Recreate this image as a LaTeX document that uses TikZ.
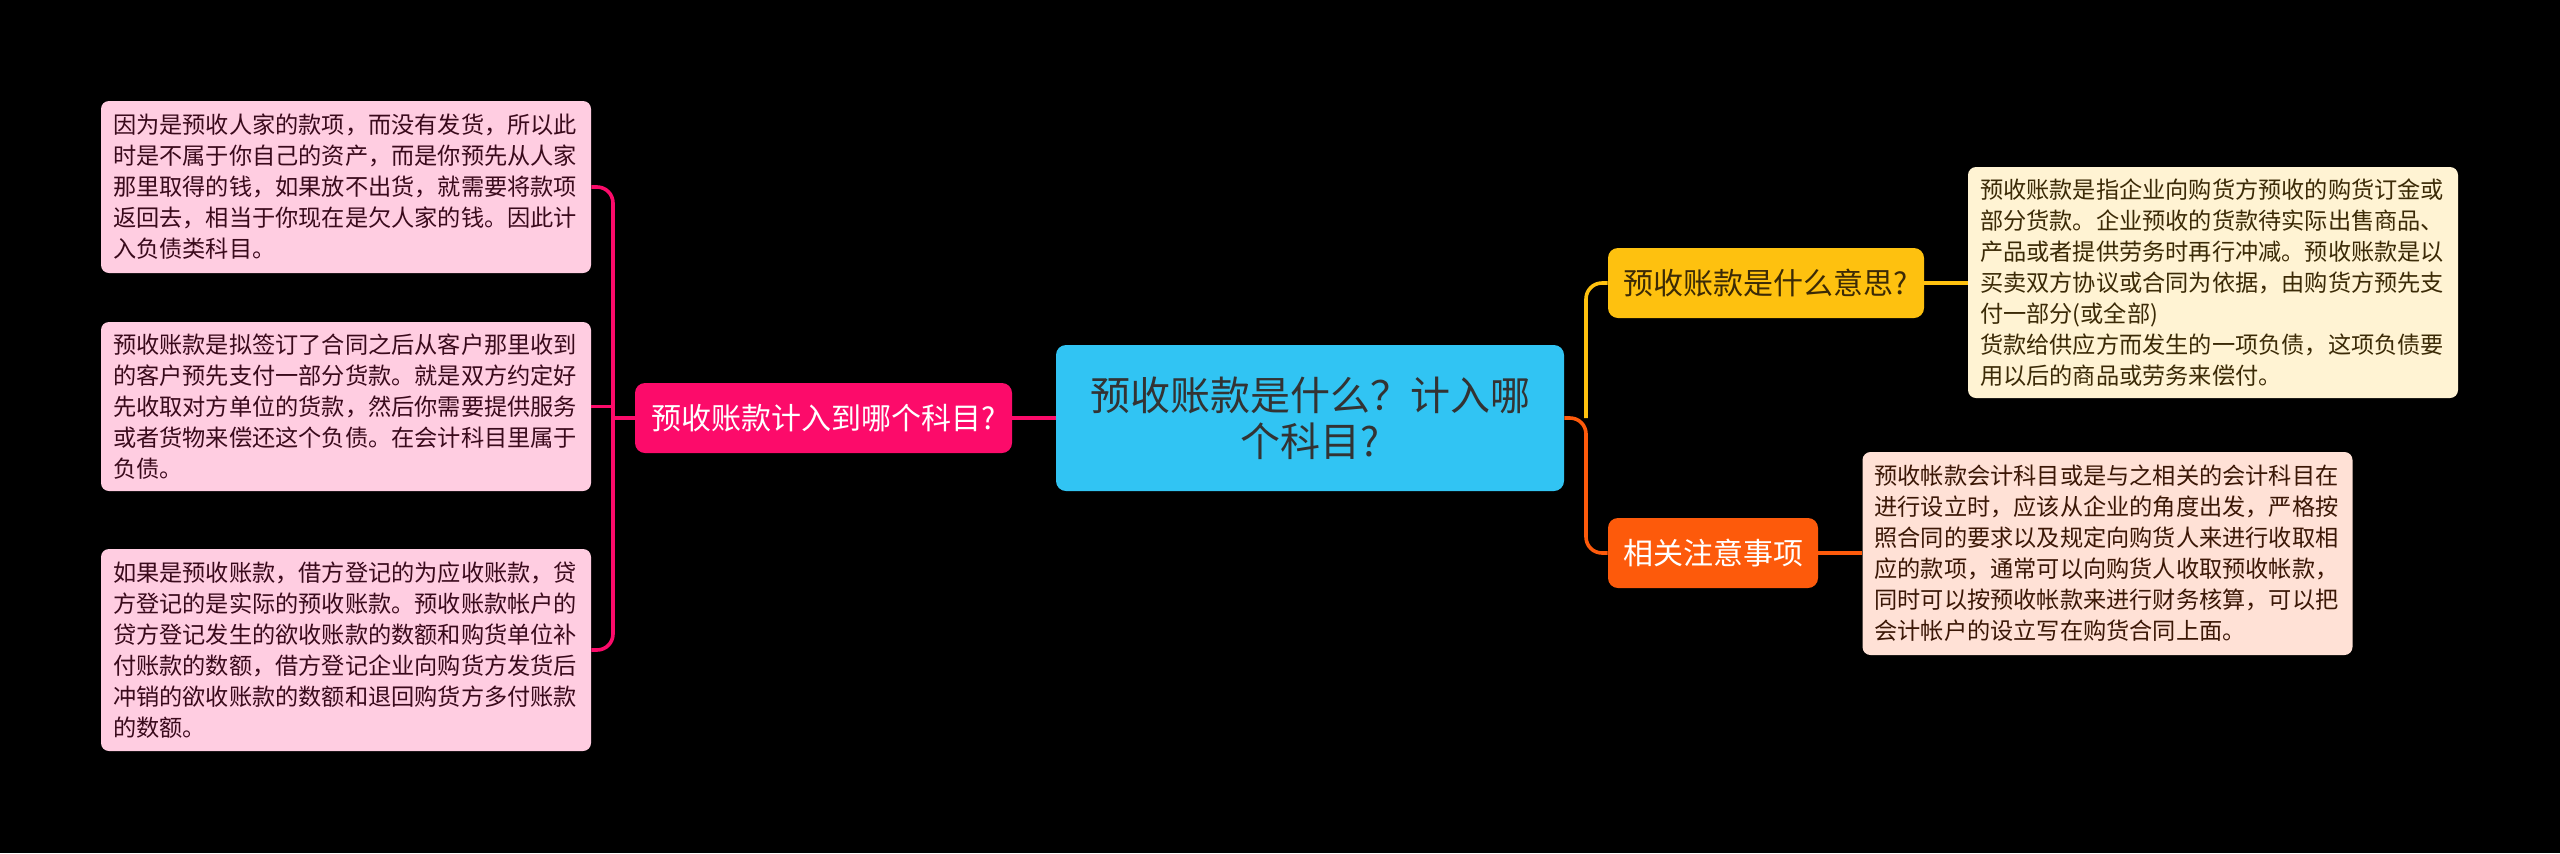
\documentclass[tikz,border=0pt]{standalone}
\usepackage{fontspec}
\setmainfont{Noto Sans CJK SC}
\usetikzlibrary{calc}
\definecolor{rootblue}{HTML}{31C4F3}
\definecolor{hotpink}{HTML}{FC0B6A}
\definecolor{pinkleaf}{HTML}{FFCDE1}
\definecolor{pinktext}{HTML}{3A0A1C}
\definecolor{amber}{HTML}{FEC10F}
\definecolor{creamleaf}{HTML}{FFF3D3}
\definecolor{creamtext}{HTML}{3B2A06}
\definecolor{flame}{HTML}{FD5A0B}
\definecolor{peachleaf}{HTML}{FFE1D6}
\definecolor{peachtext}{HTML}{3B1706}

\begin{document}
\begin{tikzpicture}[x=0.5pt,y=-0.5pt,
        root box/.style={fill=rootblue, rounded corners=5pt, text=black!80, align=center,
          minimum width=254pt, minimum height=73pt, inner sep=0pt,
          font=\fontsize{20pt}{23pt}\selectfont},
        topic box/.style={rounded corners=5pt, minimum height=35pt, inner sep=0pt,
          font=\fontsize{15pt}{18pt}\selectfont},
        leaf box/.style={rounded corners=4pt, align=left, text width=233pt, inner xsep=6pt,
          inner ysep=0pt, font=\fontsize{11.6pt}{15.5pt}\selectfont},
        link/.style={line width=1.8pt, rounded corners=8pt}]
        \fill[black](0,0)rectangle(2560,853);

        \node[root box] (root) at (1310,418) {预收账款是什么？计入哪\\个科目?};

        % left branch
        \node[topic box, fill=hotpink, text=white, minimum width=188.5pt] (where) at (823.5,418) {预收账款计入到哪个科目?};
        \node[leaf box, fill=pinkleaf, text=pinktext, minimum height=86pt] (whyleaf) at (346,187)
          {因为是预收人家的款项，而没有发货，所以此\\时是不属于你自己的资产，而是你预先从人家\\那里取得的钱，如果放不出货，就需要将款项\\返回去，相当于你现在是欠人家的钱。因此计\\入负债类科目。};
        \node[leaf box, fill=pinkleaf, text=pinktext, minimum height=84.5pt] (debtleaf) at (346,406.5)
          {预收账款是拟签订了合同之后从客户那里收到\\的客户预先支付一部分货款。就是双方约定好\\先收取对方单位的货款，然后你需要提供服务\\或者货物来偿还这个负债。在会计科目里属于\\负债。};
        \node[leaf box, fill=pinkleaf, text=pinktext, minimum height=101pt] (bookleaf) at (346,650)
          {如果是预收账款，借方登记的为应收账款，贷\\方登记的是实际的预收账款。预收账款帐户的\\贷方登记发生的欲收账款的数额和购货单位补\\付账款的数额，借方登记企业向购货方发货后\\冲销的欲收账款的数额和退回购货方多付账款\\的数额。};
        \coordinate (lspine) at (613,418);
        \draw[link, hotpink] (root.west) -- (where.east);
        \draw[link, hotpink] (where.west) -- (lspine);
        \draw[link, hotpink] (whyleaf.east) -| (lspine) |- (bookleaf.east);
        \draw[link, hotpink] (debtleaf.east) -- (debtleaf.east -| lspine);

        % right branch
        \node[topic box, fill=amber, text=creamtext, minimum width=158pt] (meaning) at (1766,283) {预收账款是什么意思?};
        \node[topic box, fill=flame, text=white, minimum width=105pt] (notes) at (1713,553) {相关注意事项};
        \node[leaf box, fill=creamleaf, text=creamtext, minimum height=115.5pt] (meanleaf) at (2213,282.5)
          {预收账款是指企业向购货方预收的购货订金或\\部分货款。企业预收的货款待实际出售商品、\\产品或者提供劳务时再行冲减。预收账款是以\\买卖双方协议或合同为依据，由购货方预先支\\付一部分(或全部)\\货款给供应方而发生的一项负债，这项负债要\\用以后的商品或劳务来偿付。};
        \node[leaf box, fill=peachleaf, text=peachtext, minimum height=101.5pt] (noteleaf) at (2107.5,553.5)
          {预收帐款会计科目或是与之相关的会计科目在\\进行设立时，应该从企业的角度出发，严格按\\照合同的要求以及规定向购货人来进行收取相\\应的款项，通常可以向购货人收取预收帐款，\\同时可以按预收帐款来进行财务核算，可以把\\会计帐户的设立写在购货合同上面。};
        \coordinate (rspine) at (1586,418);
        \draw[link, amber] (rspine) |- (meaning.west);
        \draw[link, amber] (meaning.east) -- (meaning.east -| meanleaf.west);
        \draw[link, flame] (root.east) -- (rspine) |- (notes.west);
        \draw[link, flame] (notes.east) -- (notes.east -| noteleaf.west);
      \end{tikzpicture}
\end{document}
